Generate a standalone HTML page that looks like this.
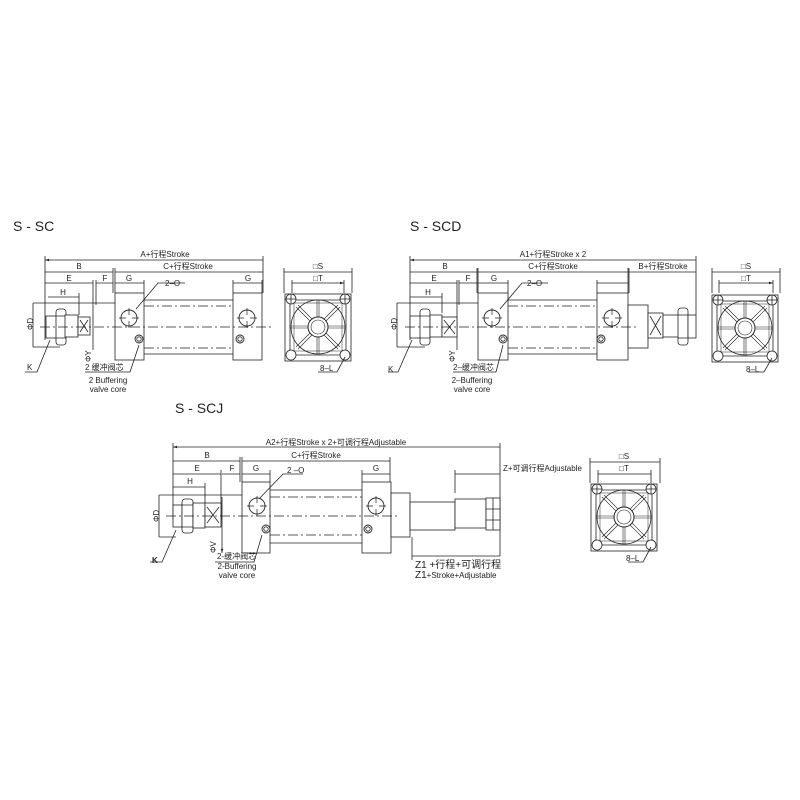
<!DOCTYPE html>
<html><head><meta charset="utf-8"><style>
html,body{margin:0;padding:0;background:#fff}
svg{display:block}
text{font-family:"Liberation Sans","Noto Sans CJK SC",sans-serif;fill:#222}
</style></head><body>
<svg width="800" height="800" viewBox="0 0 800 800" xmlns="http://www.w3.org/2000/svg">
<defs>
<marker id="a" viewBox="0 0 10 10" refX="10" refY="5" markerWidth="5" markerHeight="5" orient="auto-start-reverse"><path d="M0,2L10,5L0,8z" fill="#222"/></marker>
<g id="port"><circle r="8" fill="#fff" stroke="#222" stroke-width="0.9"/><path d="M0,-10V-3M0,3V10M-10,0H-3M3,0H10" stroke="#222" stroke-width="0.7"/></g>
<g id="cush"><circle r="4" fill="#fff" stroke="#222" stroke-width="0.9"/><circle r="2.2" fill="none" stroke="#222" stroke-width="0.8"/></g>
<g id="ev" fill="none" stroke="#222" stroke-width="0.8">
<rect x="-33" y="-33" width="66" height="67"/>
<path d="M-26,-27H26L28,-25V26L26,28H-26L-28,26V-25Z"/>
<path d="M-24,-24H24V24H-24Z" stroke-width="0.5"/>
<circle r="27"/>
<circle r="10" stroke-width="1"/><circle r="7" stroke-width="0.6"/>
<path d="M-1,-27V-10M1,-27V-10M-1,10V27M1,10V27M-27,-1H-10M-27,1H-10M10,-1H27M10,1H27M-6,-8L-20,-22M-8,-6L-22,-20M6,-8L20,-22M8,-6L22,-20M-6,8L-20,22M-8,6L-22,20M6,8L20,22M8,6L22,20" stroke-width="0.6"/>
<circle cx="-27" cy="-28" r="5" fill="#fff"/><path d="M-32,-28h10M-27,-33v10"/>
<circle cx="27" cy="-28" r="5" fill="#fff"/><path d="M22,-28h10M27,-33v10"/>
<circle cx="-27" cy="28" r="5" fill="#fff"/><circle cx="27" cy="28" r="5" fill="#fff"/>
</g>
</defs>

<g stroke="#222" stroke-width="0.8" fill="none">
<g marker-start="url(#a)" marker-end="url(#a)">
<path d="M45,260H263M45,272H113M115,272H263M45,283H93M96,283H113M115,283H144M233,283H262M48,297H79M33,303V347M284,272H352M292,283H344"/>
</g>
<path d="M45,256V340M113,268V293M115,268V293M263,256V293M262,280V293M233,280V293M144,280V293M79,293V315M93,280V350M96,280V305M33,303H115M33,347H60M284,268V293M352,268V293M292,280V293M344,280V293"/>
<rect x="46" y="316" width="12" height="22" fill="#fff"/>
<rect x="56" y="309" width="10" height="36" rx="3" fill="#fff"/><path d="M56,316H66M56,338H66"/>
<rect x="65" y="315" width="13" height="22" fill="#fff"/>
<rect x="78" y="317" width="12" height="18" fill="#fff"/><path d="M80,320L88,332M88,320L80,332"/>
<rect x="115" y="293" width="29" height="67" fill="#fff"/>
<rect x="233" y="293" width="29" height="67" fill="#fff"/>
<path d="M144,300H233M144,354H233"/>
<path d="M144,306H233M144,348H233" stroke-dasharray="10,3,2,3"/>
<path d="M40,327H272" stroke-dasharray="10,3,2,3"/>
<path d="M136,309L158,283H185M139,345L130,372H85M50,340L37,372H25"/>
<use href="#ev" x="318" y="327"/>
<path d="M345,357L337,372H318"/>

<g marker-start="url(#a)" marker-end="url(#a)">
<path d="M410,260H696M410,272H477M478,272H628M629,272H696M410,283H457M459,283H477M478,283H508M597,283H628M410,297H442M397,303V347M712,272H780M719,283H773"/>
</g>
<path d="M410,256V340M477,268V293M478,268V293M628,268V293M629,268V293M696,256V315M457,280V350M459,280V305M442,293V313M508,280V293M597,280V293M397,303H478M397,347H425M712,268V293M780,268V293M719,280V293M773,280V293"/>
<rect x="410" y="316" width="12" height="22" fill="#fff"/>
<rect x="420" y="309" width="10" height="36" rx="3" fill="#fff"/><path d="M420,316H430M420,338H430"/>
<rect x="430" y="315" width="12" height="22" fill="#fff"/>
<rect x="442" y="317" width="15" height="20" fill="#fff"/><path d="M444,320L455,334M455,320L444,334"/>
<rect x="478" y="293" width="30" height="67" fill="#fff"/>
<rect x="597" y="293" width="31" height="67" fill="#fff"/>
<path d="M508,300H597M508,354H597"/>
<path d="M508,306H597M508,348H597" stroke-dasharray="10,3,2,3"/>
<rect x="628" y="305" width="20" height="43" fill="#fff"/>
<rect x="648" y="313" width="15" height="25" fill="#fff"/><path d="M650,316L661,335M661,316L650,335"/>
<rect x="663" y="315" width="16" height="22" fill="#fff"/>
<rect x="678" y="308" width="10" height="37" rx="3" fill="#fff"/><path d="M678,315H688M678,338H688"/>
<rect x="688" y="315" width="8" height="23" fill="#fff"/>
<path d="M405,327H638" stroke-dasharray="10,3,2,3"/>
<path d="M500,309L522,283H548M503,345L496,372H453M412,340L398,372H388"/>
<use href="#ev" x="745" y="328"/>
<path d="M772,358L764,372H748"/>

<g marker-start="url(#a)" marker-end="url(#a)">
<path d="M173,447H500M173,461H240M242,461H390M173,474H221M222,474H240M242,474H270M362,474H390M173,487H205M159,495V537M455,474H500M412,556H500M590,462H660M598,474H651M222,497V553"/>
</g>
<path d="M173,443V520M240,457V482M242,457V482M390,457V482M500,443V556M221,470V520M270,470V482M362,470V482M205,483V503M159,495H242M159,537H176M455,470V493M412,537V560M590,458V483M660,458V483M598,470V483M651,470V483"/>
<rect x="173" y="505" width="9" height="22" fill="#fff"/>
<rect x="182" y="499" width="11" height="34" rx="3" fill="#fff"/><path d="M182,505H193M182,527H193"/>
<rect x="193" y="503" width="12" height="25" fill="#fff"/>
<rect x="205" y="503" width="16" height="24" fill="#fff"/><path d="M207,507L219,523M219,507L207,523"/>
<rect x="242" y="482" width="28" height="71" fill="#fff"/>
<rect x="362" y="482" width="29" height="71" fill="#fff"/>
<path d="M270,490H362M270,543H362"/>
<path d="M270,497H362M270,535H362" stroke-dasharray="10,3,2,3"/>
<rect x="391" y="493" width="19" height="44" fill="#fff"/>
<rect x="410" y="502" width="45" height="28" fill="#fff"/>
<rect x="455" y="499" width="31" height="29" fill="#fff"/>
<rect x="486" y="498" width="14" height="32" fill="#fff"/><path d="M486,509H500M486,520H500M493,498V530"/>
<path d="M166,516H400" stroke-dasharray="10,3,2,3"/>
<path d="M256,502L283,474H303M262,535L254,562H215M176,530L162,562H150"/>
<use href="#ev" x="624" y="517"/>
<path d="M651,547L643,562H628"/>
</g>

<g stroke="#222" stroke-width="0.8" fill="#fff">
<use href="#port" x="129" y="318"/><use href="#port" x="247" y="318"/>
<use href="#cush" x="139" y="339"/><use href="#cush" x="240" y="339"/>
<use href="#port" x="492" y="318"/><use href="#port" x="612" y="318"/>
<use href="#cush" x="503" y="339"/><use href="#cush" x="601" y="339"/>
<use href="#port" x="257" y="506"/><use href="#port" x="376" y="506"/>
<use href="#cush" x="266" y="529"/><use href="#cush" x="368" y="529"/>
</g>

<g font-size="8">
<text x="13" y="231" font-size="14">S - SC</text>
<text x="165" y="257" text-anchor="middle">A+行程Stroke</text>
<text x="79" y="269" text-anchor="middle">B</text>
<text x="188" y="269" text-anchor="middle">C+行程Stroke</text>
<text x="69" y="281" text-anchor="middle">E</text>
<text x="105" y="281" text-anchor="middle">F</text>
<text x="129" y="281" text-anchor="middle">G</text>
<text x="248" y="281" text-anchor="middle">G</text>
<text x="63" y="295" text-anchor="middle">H</text>
<text x="165" y="286">2–O</text>
<text x="85" y="370">2 缓冲阀芯</text>
<text x="108" y="383" text-anchor="middle">2 Buffering</text>
<text x="108" y="392" text-anchor="middle">valve core</text>
<text x="27" y="370">K</text>
<text transform="translate(33,330) rotate(-90)">ΦD</text>
<text transform="translate(91,362) rotate(-90)">ΦY</text>
<text x="318" y="269" text-anchor="middle">□S</text>
<text x="318" y="281" text-anchor="middle">□T</text>
<text x="320" y="371">8–L</text>

<text x="410" y="231" font-size="14">S - SCD</text>
<text x="553" y="257" text-anchor="middle">A1+行程Stroke x 2</text>
<text x="445" y="269" text-anchor="middle">B</text>
<text x="553" y="269" text-anchor="middle">C+行程Stroke</text>
<text x="663" y="269" text-anchor="middle">B+行程Stroke</text>
<text x="434" y="281" text-anchor="middle">E</text>
<text x="468" y="281" text-anchor="middle">F</text>
<text x="494" y="281" text-anchor="middle">G</text>
<text x="428" y="295" text-anchor="middle">H</text>
<text x="527" y="286">2–O</text>
<text x="453" y="370">2–缓冲阀芯</text>
<text x="472" y="383" text-anchor="middle">2–Buffering</text>
<text x="472" y="392" text-anchor="middle">valve core</text>
<text x="388" y="372">K</text>
<text transform="translate(397,330) rotate(-90)">ΦD</text>
<text transform="translate(455,362) rotate(-90)">ΦY</text>
<text x="746" y="269" text-anchor="middle">□S</text>
<text x="746" y="281" text-anchor="middle">□T</text>
<text x="746" y="372">8–L</text>

<text x="175" y="413" font-size="14">S - SCJ</text>
<text x="336" y="445" text-anchor="middle">A2+行程Stroke x 2+可调行程Adjustable</text>
<text x="207" y="458" text-anchor="middle">B</text>
<text x="316" y="458" text-anchor="middle">C+行程Stroke</text>
<text x="197" y="471" text-anchor="middle">E</text>
<text x="232" y="471" text-anchor="middle">F</text>
<text x="256" y="471" text-anchor="middle">G</text>
<text x="376" y="471" text-anchor="middle">G</text>
<text x="190" y="484" text-anchor="middle">H</text>
<text x="287" y="473">2 –O</text>
<text x="503" y="471">Z+可调行程Adjustable</text>
<text x="217" y="559">2-缓冲阀芯</text>
<text x="237" y="569" text-anchor="middle">2-Buffering</text>
<text x="237" y="578" text-anchor="middle">valve core</text>
<text x="152" y="563" font-weight="bold">K</text>
<text transform="translate(159,522) rotate(-90)">ΦD</text>
<text transform="translate(216,553) rotate(-90)">ΦV</text>
<text x="415" y="568" font-size="10">Z1 +行程+可调行程</text>
<text x="415" y="578"><tspan font-size="10">Z1</tspan>+Stroke+Adjustable</text>
<text x="624" y="459" text-anchor="middle">□S</text>
<text x="624" y="471" text-anchor="middle">□T</text>
<text x="626" y="561">8–L</text>
</g>
</svg>
</body></html>
